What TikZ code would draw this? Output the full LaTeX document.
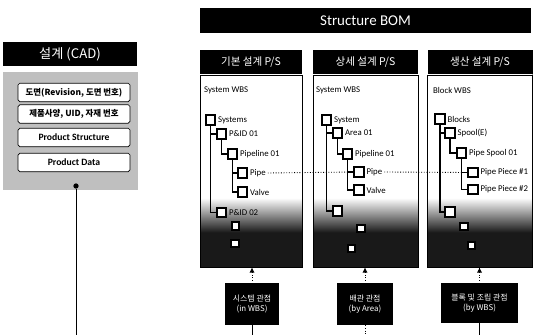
\documentclass[tikz,border=0pt]{standalone}
\usepackage{fontspec}
\setmainfont{Carlito}
\newfontfamily\kr{Noto Sans CJK KR}
\usetikzlibrary{arrows.meta}
\pgfdeclareverticalshading{wbsfade}{100bp}{color(0bp)=(black!90); color(34bp)=(black!90); color(43bp)=(white); color(100bp)=(white)}

\begin{document}
\begin{tikzpicture}[x=1cm,y=1cm,line width=0.4pt,
  blackbar/.style={fill=black,text=white,inner sep=0pt},
  itembox/.style={draw=black,fill=white,rounded corners=1pt,minimum width=2.24cm,minimum height=0.37cm,inner sep=0pt,font=\kr\bfseries\fontsize{4.8}{6}\selectfont},
  wbspanel/.style={draw=black,shade,shading=wbsfade,inner sep=0pt,minimum height=3.84cm},
  colhead/.style={blackbar,minimum height=0.50cm,font=\kr\fontsize{6}{7}\selectfont},
  sq/.style={draw=black,line width=0.9pt,fill=white,minimum size=0.19cm,inner sep=0pt},
  sqs/.style={sq,minimum size=0.15cm},
  lbl/.style={inner sep=1pt,font=\fontsize{5}{6}\selectfont},
  viewbox/.style={fill=black,text=white,align=center,inner sep=0pt,font=\kr\fontsize{4.5}{6}\selectfont},
  tree/.style={line width=0.9pt},
  map/.style={densely dotted,line width=0.5pt}]

\useasboundingbox (0,0) rectangle (10.66,6.70);

% CAD side
\node[blackbar,minimum width=2.68cm,minimum height=0.48cm,font=\kr\fontsize{7.5}{9}\selectfont] (cad) at (1.40,5.62) {설계 (CAD)};
\node[fill=black!25,minimum width=2.70cm,minimum height=2.36cm,inner sep=0pt] (cadpanel) at (1.41,4.08) {};
\node[itembox] (cadrev) at (1.48,4.85) {도면(Revision, 도면 번호)};
\node[itembox] (caduid) at (1.48,4.42) {제품사양, UID, 자재 번호};
\node[itembox,font=\bfseries\fontsize{5.5}{6}\selectfont] (cadps) at (1.48,3.95) {Product Structure};
\node[itembox,font=\bfseries\fontsize{5.5}{6}\selectfont] (cadpd) at (1.48,3.45) {Product Data};
\node[circle,fill=black,inner sep=0pt,minimum size=3pt] (caddot) at (1.52,2.98) {};
\coordinate (cadend) at (1.52,0);
\draw (caddot) -- (cadend);

% Structure BOM
\node[blackbar,minimum width=6.62cm,minimum height=0.50cm,font=\fontsize{8.5}{10}\selectfont] (bom) at (7.31,6.29) {Structure BOM};

\node[colhead,minimum width=2.04cm] (h1) at (5.02,5.45) {기본 설계 P/S};
\node[colhead,minimum width=2.10cm] (h2) at (7.31,5.45) {상세 설계 P/S};
\node[colhead,minimum width=2.10cm] (h3) at (9.60,5.45) {생산 설계 P/S};

\node[wbspanel,minimum width=2.04cm] (p1) at (5.02,3.28) {};
\node[wbspanel,minimum width=2.10cm] (p2) at (7.31,3.28) {};
\node[wbspanel,minimum width=2.10cm] (p3) at (9.60,3.28) {};

% System WBS (basic)
\node[lbl,anchor=west] (c1title) at (4.04,4.90) {System WBS};
\node[sq,label={[lbl]right:Systems}] (c1sys) at (4.21,4.30) {};
\node[sq,label={[lbl]right:P\&ID 01}] (c1pid1) at (4.43,4.02) {};
\node[sq,label={[lbl]right:Pipeline 01}] (c1line) at (4.65,3.62) {};
\node[sq,label={[lbl,name=c1pipeL]right:Pipe}] (c1pipe) at (4.85,3.24) {};
\node[sq,label={[lbl]right:Valve}] (c1valve) at (4.85,2.86) {};
\node[sq,label={[lbl]right:P\&ID 02}] (c1pid2) at (4.43,2.45) {};
\node[sqs] (c1x1) at (4.71,2.18) {};
\node[sqs] (c1x2) at (4.70,1.83) {};
\draw[tree] (c1sys.south) |- (c1pid1.west);
\draw[tree] (c1sys.south) |- (c1pid2.west);
\draw[tree] (c1pid1.south) |- (c1line.west);
\draw[tree] (c1line.south) |- (c1pipe.west);
\draw[tree] (c1line.south) |- (c1valve.west);

% System WBS (detail)
\node[lbl,anchor=west] (c2title) at (6.28,4.90) {System WBS};
\node[sq,label={[lbl]right:System}] (c2sys) at (6.53,4.30) {};
\node[sq,label={[lbl]right:Area 01}] (c2area) at (6.75,4.04) {};
\node[sq,label={[lbl]right:Pipeline 01}] (c2line) at (6.95,3.62) {};
\node[sq,label={[lbl,name=c2pipeL]right:Pipe}] (c2pipe) at (7.18,3.26) {};
\node[sq,label={[lbl]right:Valve}] (c2valve) at (7.18,2.90) {};
\node[sq] (c2x0) at (6.75,2.48) {};
\node[sqs] (c2x1) at (7.22,2.13) {};
\node[sqs] (c2x2) at (7.03,1.73) {};
\draw[tree] (c2sys.south) |- (c2area.west);
\draw[tree] (c2sys.south) |- (c2x0.west);
\draw[tree] (c2area.south) |- (c2line.west);
\draw[tree] (c2line.south) |- (c2pipe.west);
\draw[tree] (c2line.south) |- (c2valve.west);

% Block WBS
\node[lbl,anchor=west] (c3title) at (8.62,4.90) {Block WBS};
\node[sq,label={[lbl]right:Blocks}] (c3blk) at (8.80,4.32) {};
\node[sq,label={[lbl]right:Spool(E)}] (c3spool) at (9.00,4.04) {};
\node[sq,label={[lbl]right:Pipe Spool 01}] (c3pspool) at (9.23,3.64) {};
\node[sq,label={[lbl]right:Pipe Piece \#1}] (c3pp1) at (9.46,3.25) {};
\node[sq,label={[lbl]right:Pipe Piece \#2}] (c3pp2) at (9.46,2.91) {};
\node[sq] (c3x0) at (9.00,2.46) {};
\node[sqs] (c3x1) at (9.28,2.17) {};
\node[sqs] (c3x2) at (9.43,1.79) {};
\draw[tree] (c3blk.south) |- (c3spool.west);
\draw[tree] (c3blk.south) |- (c3x0.west);
\draw[tree] (c3spool.south) |- (c3pspool.west);
\draw[tree] (c3pspool.south) |- (c3pp1.west);
\draw[tree] (c3pspool.south) |- (c3pp2.west);

% mapping between views
\draw[map] (c1pipeL.east) -- (c2pipe.west);
\draw[map] (c2pipeL.east) -- (c3pp1.west);

% views
\node[viewbox,minimum width=1.08cm,minimum height=0.84cm] (v1) at (5.04,0.62) {시스템 관점\\(in WBS)};
\node[viewbox,minimum width=1.12cm,minimum height=0.84cm] (v2) at (7.30,0.62) {배관 관점\\(by Area)};
\node[viewbox,minimum width=1.54cm,minimum height=0.80cm] (v3) at (9.59,0.64) {블록 및 조립 관점\\(by WBS)};
\draw[map,{Latex[length=3pt,width=3pt]}-] (v1.north |- p1.south) -- (v1.north);
\draw[map,{Latex[length=3pt,width=3pt]}-] (v2.north |- p2.south) -- (v2.north);
\draw[map,{Latex[length=3pt,width=3pt]}-] (v3.north |- p3.south) -- (v3.north);
\coordinate (v1end) at (5.04,0);
\coordinate (v2end) at (7.30,0);
\coordinate (v3end) at (9.59,0);
\draw (v1.south) -- (v1end);
\draw[map] (v2.south) -- (v2end);
\draw (v3.south) -- (v3end);
\end{tikzpicture}
\end{document}
